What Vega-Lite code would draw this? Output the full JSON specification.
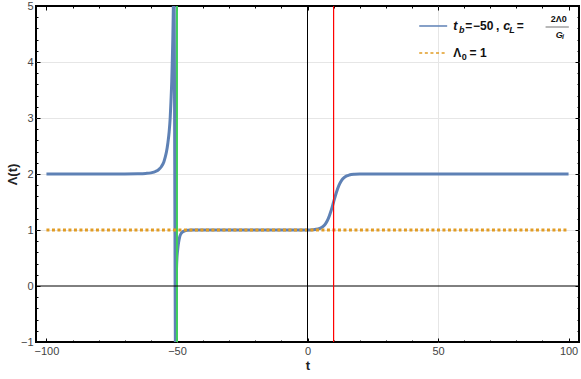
{
  "$schema": "https://vega.github.io/schema/vega-lite/v6.json",
  "width": 543,
  "height": 336,
  "autosize": {"type": "none"},
  "padding": {"left": 36, "top": 6, "right": 2, "bottom": 37},
  "config": {
    "font": "Liberation Sans",
    "view": {"stroke": "black", "strokeWidth": 2},
    "axis": {"labelOverlap": false, "labelFlush": false, "domain": false, "tickColor": "black", "tickWidth": 1, "grid": false}
  },
  "datasets": {
    "curve": [
      {"t": -100, "L": 2}, {"t": -90, "L": 2}, {"t": -80, "L": 2}, {"t": -70, "L": 2.001},
      {"t": -65, "L": 2.004}, {"t": -62, "L": 2.01}, {"t": -60, "L": 2.02}, {"t": -58, "L": 2.05},
      {"t": -57, "L": 2.08}, {"t": -56, "L": 2.13}, {"t": -55, "L": 2.22}, {"t": -54.5, "L": 2.3},
      {"t": -54, "L": 2.4}, {"t": -53.5, "L": 2.55}, {"t": -53, "L": 2.75}, {"t": -52.6, "L": 3.0},
      {"t": -52.3, "L": 3.3}, {"t": -52, "L": 3.65}, {"t": -51.8, "L": 4.0}, {"t": -51.6, "L": 4.4},
      {"t": -51.45, "L": 4.8}, {"t": -51.3, "L": 5.3}, {"t": -51.2, "L": 5.8},
      {"t": -50.5, "L": -1.5}, {"t": -50.4, "L": -0.6}, {"t": -50.3, "L": 0.0}, {"t": -50.15, "L": 0.35},
      {"t": -50, "L": 0.5}, {"t": -49.7, "L": 0.66}, {"t": -49.4, "L": 0.77}, {"t": -49, "L": 0.87},
      {"t": -48.5, "L": 0.93}, {"t": -48, "L": 0.96}, {"t": -47, "L": 0.985}, {"t": -46, "L": 0.995},
      {"t": -44, "L": 1.0}, {"t": -30, "L": 1.0}, {"t": -10, "L": 1.0}, {"t": 0, "L": 1.001},
      {"t": 2, "L": 1.005}, {"t": 4, "L": 1.018}, {"t": 5, "L": 1.034}, {"t": 6, "L": 1.065},
      {"t": 7, "L": 1.119}, {"t": 8, "L": 1.209}, {"t": 9, "L": 1.339}, {"t": 10, "L": 1.5},
      {"t": 11, "L": 1.661}, {"t": 12, "L": 1.791}, {"t": 13, "L": 1.881}, {"t": 14, "L": 1.935},
      {"t": 15, "L": 1.966}, {"t": 16, "L": 1.982}, {"t": 18, "L": 1.995}, {"t": 20, "L": 1.999},
      {"t": 30, "L": 2}, {"t": 50, "L": 2}, {"t": 70, "L": 2}, {"t": 100, "L": 2}
    ],
    "lambda0": [{"t": -100, "L": 1}, {"t": 100, "L": 1}],
    "green": [{"t": -50}],
    "vzero": [{"t": 0}],
    "hzero": [{"L": 0}],
    "red": [{"t": 10}],
    "legBlue": [{"t1": 42.8, "t2": 53.5, "L": 4.643}],
    "legOrange": [{"t1": 42.8, "t2": 53.5, "L": 4.161}],
    "fracBar": [{"t1": 91.2, "t2": 100.1, "L": 4.625}],
    "txtMain": [
      {"x": 60.4, "y": 4.643, "s": "="},
      {"x": 63.4, "y": 4.643, "s": "−50"},
      {"x": 72.2, "y": 4.643, "s": ","},
      {"x": 80.2, "y": 4.643, "s": "="},
      {"x": 55.8, "y": 4.161, "s": "Λ"},
      {"x": 62.1, "y": 4.161, "s": "= 1"}
    ],
    "txtItalic": [
      {"x": 55.8, "y": 4.643, "s": "t"},
      {"x": 75.0, "y": 4.643, "s": "c"}
    ],
    "txtSubItalic": [
      {"x": 58.0, "y": 4.571, "s": "b"},
      {"x": 77.3, "y": 4.571, "s": "L"}
    ],
    "txtSub": [
      {"x": 59.1, "y": 4.089, "s": "0"}
    ],
    "txtFrac": [
      {"x": 96.2, "y": 4.768, "s": "2Λ0"}
    ],
    "txtFracItalic": [
      {"x": 95.1, "y": 4.482, "s": "G"}
    ],
    "txtFracSub": [
      {"x": 97.5, "y": 4.455, "s": "i"}
    ]
  },
  "resolve": {"axis": {"x": "independent", "y": "independent"}},
  "layer": [
    {
      "data": {"name": "fracBar"},
      "mark": {"type": "rule", "color": "#333333", "strokeWidth": 0.7},
      "encoding": {
        "x": {"field": "t1", "type": "quantitative", "scale": {"domain": [-104, 104], "nice": false, "zero": false},
          "axis": {"orient": "bottom", "values": [-50, 50], "grid": true, "gridColor": "#e6e6e6", "gridWidth": 1, "ticks": false, "labels": false, "domain": false, "title": null}},
        "x2": {"field": "t2"},
        "y": {"field": "L", "type": "quantitative", "scale": {"domain": [-1, 5], "nice": false, "zero": false},
          "axis": {"orient": "left", "values": [1, 2, 3, 4], "grid": true, "gridColor": "#e6e6e6", "gridWidth": 1, "ticks": false, "labels": false, "domain": false, "title": null}}
      }
    },
    {
      "data": {"name": "curve"},
      "mark": {"type": "line", "color": "#5E81B5", "strokeWidth": 3, "clip": true, "interpolate": "monotone"},
      "encoding": {
        "x": {
          "field": "t", "type": "quantitative",
          "scale": {"domain": [-104, 104], "nice": false, "zero": false},
          "axis": {
            "orient": "bottom",
            "values": [-100, -50, 0, 50, 100],
            "format": "d",
            "offset": -4,
            "tickSize": 4,
            "labelColor": "#444444",
            "labelFontSize": 11,
            "labelPadding": 3,
            "title": "t",
            "titleFontSize": 13,
            "titleFontWeight": "bold",
            "titleColor": "#222222",
            "titlePadding": 3
          }
        },
        "y": {
          "field": "L", "type": "quantitative",
          "scale": {"domain": [-1, 5], "nice": false, "zero": false},
          "axis": {
            "orient": "left",
            "values": [-1, 0, 1, 2, 3, 4, 5],
            "format": "d",
            "offset": -4,
            "tickSize": 4,
            "labelColor": "#444444",
            "labelFontSize": 11,
            "labelPadding": 3,
            "title": "Λ(t)",
            "titleFontSize": 13,
            "titleFontWeight": "bold",
            "titleColor": "#222222",
            "titlePadding": 1
          }
        }
      }
    },
    {
      "data": {"name": "lambda0"},
      "mark": {"type": "line", "color": "#E19C24", "strokeWidth": 3, "strokeDash": [3, 2.5], "strokeCap": "butt"},
      "encoding": {
        "x": {
          "field": "t", "type": "quantitative",
          "scale": {"domain": [-104, 104], "nice": false, "zero": false},
          "axis": {"orient": "bottom", "values": [-90, -80, -70, -60, -40, -30, -20, -10, 10, 20, 30, 40, 60, 70, 80, 90], "offset": -2, "tickSize": 2, "labels": false, "title": null}
        },
        "y": {
          "field": "L", "type": "quantitative",
          "scale": {"domain": [-1, 5], "nice": false, "zero": false},
          "axis": {"orient": "left", "values": [-0.8, -0.6, -0.4, -0.2, 0.2, 0.4, 0.6, 0.8, 1.2, 1.4, 1.6, 1.8, 2.2, 2.4, 2.6, 2.8, 3.2, 3.4, 3.6, 3.8, 4.2, 4.4, 4.6, 4.8], "offset": -2, "tickSize": 2, "labels": false, "title": null}
        }
      }
    },
    {
      "data": {"name": "green"},
      "mark": {"type": "rule", "color": "#3fcf5a", "strokeWidth": 2},
      "encoding": {
        "x": {"field": "t", "type": "quantitative", "scale": {"domain": [-104, 104], "nice": false, "zero": false}, "axis": null}
      }
    },
    {
      "data": {"name": "vzero"},
      "mark": {"type": "rule", "color": "black", "strokeWidth": 1},
      "encoding": {
        "x": {"field": "t", "type": "quantitative", "scale": {"domain": [-104, 104], "nice": false, "zero": false}, "axis": null}
      }
    },
    {
      "data": {"name": "hzero"},
      "mark": {"type": "rule", "color": "black", "strokeWidth": 1},
      "encoding": {
        "y": {"field": "L", "type": "quantitative", "scale": {"domain": [-1, 5], "nice": false, "zero": false}, "axis": null}
      }
    },
    {
      "data": {"name": "red"},
      "mark": {"type": "rule", "color": "#ff0000", "strokeWidth": 1.2},
      "encoding": {
        "x": {"field": "t", "type": "quantitative", "scale": {"domain": [-104, 104], "nice": false, "zero": false}, "axis": null}
      }
    },
    {
      "data": {"name": "legBlue"},
      "mark": {"type": "rule", "color": "#5E81B5", "strokeWidth": 1.5},
      "encoding": {
        "x": {"field": "t1", "type": "quantitative", "scale": {"domain": [-104, 104], "nice": false, "zero": false},
          "axis": {"orient": "top", "values": [-100, -50, 0, 50, 100], "offset": -4, "tickSize": 4, "labels": false, "title": null}},
        "x2": {"field": "t2"},
        "y": {"field": "L", "type": "quantitative", "scale": {"domain": [-1, 5], "nice": false, "zero": false},
          "axis": {"orient": "right", "values": [-1, 0, 1, 2, 3, 4, 5], "offset": -4, "tickSize": 4, "labels": false, "title": null}}
      }
    },
    {
      "data": {"name": "legOrange"},
      "mark": {"type": "rule", "color": "#E19C24", "strokeWidth": 1.5, "strokeDash": [3, 2.6]},
      "encoding": {
        "x": {"field": "t1", "type": "quantitative", "scale": {"domain": [-104, 104], "nice": false, "zero": false},
          "axis": {"orient": "top", "values": [-90, -80, -70, -60, -40, -30, -20, -10, 10, 20, 30, 40, 60, 70, 80, 90], "offset": -2, "tickSize": 2, "labels": false, "title": null}},
        "x2": {"field": "t2"},
        "y": {"field": "L", "type": "quantitative", "scale": {"domain": [-1, 5], "nice": false, "zero": false},
          "axis": {"orient": "right", "values": [-0.8, -0.6, -0.4, -0.2, 0.2, 0.4, 0.6, 0.8, 1.2, 1.4, 1.6, 1.8, 2.2, 2.4, 2.6, 2.8, 3.2, 3.4, 3.6, 3.8, 4.2, 4.4, 4.6, 4.8], "offset": -2, "tickSize": 2, "labels": false, "title": null}}
      }
    },
    {
      "data": {"name": "txtMain"},
      "mark": {"type": "text", "align": "left", "baseline": "middle", "fontSize": 12, "fontWeight": "bold", "color": "#111111"},
      "encoding": {
        "x": {"field": "x", "type": "quantitative", "scale": {"domain": [-104, 104], "nice": false, "zero": false}, "axis": null},
        "y": {"field": "y", "type": "quantitative", "scale": {"domain": [-1, 5], "nice": false, "zero": false}, "axis": null},
        "text": {"field": "s"}
      }
    },
    {
      "data": {"name": "txtItalic"},
      "mark": {"type": "text", "align": "left", "baseline": "middle", "fontSize": 12.5, "fontWeight": "bold", "fontStyle": "italic", "color": "#111111"},
      "encoding": {
        "x": {"field": "x", "type": "quantitative", "scale": {"domain": [-104, 104], "nice": false, "zero": false}, "axis": null},
        "y": {"field": "y", "type": "quantitative", "scale": {"domain": [-1, 5], "nice": false, "zero": false}, "axis": null},
        "text": {"field": "s"}
      }
    },
    {
      "data": {"name": "txtSubItalic"},
      "mark": {"type": "text", "align": "left", "baseline": "middle", "fontSize": 9, "fontWeight": "bold", "fontStyle": "italic", "color": "#111111"},
      "encoding": {
        "x": {"field": "x", "type": "quantitative", "scale": {"domain": [-104, 104], "nice": false, "zero": false}, "axis": null},
        "y": {"field": "y", "type": "quantitative", "scale": {"domain": [-1, 5], "nice": false, "zero": false}, "axis": null},
        "text": {"field": "s"}
      }
    },
    {
      "data": {"name": "txtSub"},
      "mark": {"type": "text", "align": "left", "baseline": "middle", "fontSize": 9, "fontWeight": "bold", "color": "#111111"},
      "encoding": {
        "x": {"field": "x", "type": "quantitative", "scale": {"domain": [-104, 104], "nice": false, "zero": false}, "axis": null},
        "y": {"field": "y", "type": "quantitative", "scale": {"domain": [-1, 5], "nice": false, "zero": false}, "axis": null},
        "text": {"field": "s"}
      }
    },
    {
      "data": {"name": "txtFrac"},
      "mark": {"type": "text", "align": "center", "baseline": "middle", "fontSize": 9, "fontWeight": "bold", "color": "#111111"},
      "encoding": {
        "x": {"field": "x", "type": "quantitative", "scale": {"domain": [-104, 104], "nice": false, "zero": false}, "axis": null},
        "y": {"field": "y", "type": "quantitative", "scale": {"domain": [-1, 5], "nice": false, "zero": false}, "axis": null},
        "text": {"field": "s"}
      }
    },
    {
      "data": {"name": "txtFracItalic"},
      "mark": {"type": "text", "align": "left", "baseline": "middle", "fontSize": 9, "fontWeight": "bold", "fontStyle": "italic", "color": "#111111"},
      "encoding": {
        "x": {"field": "x", "type": "quantitative", "scale": {"domain": [-104, 104], "nice": false, "zero": false}, "axis": null},
        "y": {"field": "y", "type": "quantitative", "scale": {"domain": [-1, 5], "nice": false, "zero": false}, "axis": null},
        "text": {"field": "s"}
      }
    },
    {
      "data": {"name": "txtFracSub"},
      "mark": {"type": "text", "align": "left", "baseline": "middle", "fontSize": 7, "fontWeight": "bold", "fontStyle": "italic", "color": "#111111"},
      "encoding": {
        "x": {"field": "x", "type": "quantitative", "scale": {"domain": [-104, 104], "nice": false, "zero": false}, "axis": null},
        "y": {"field": "y", "type": "quantitative", "scale": {"domain": [-1, 5], "nice": false, "zero": false}, "axis": null},
        "text": {"field": "s"}
      }
    }
  ]
}
